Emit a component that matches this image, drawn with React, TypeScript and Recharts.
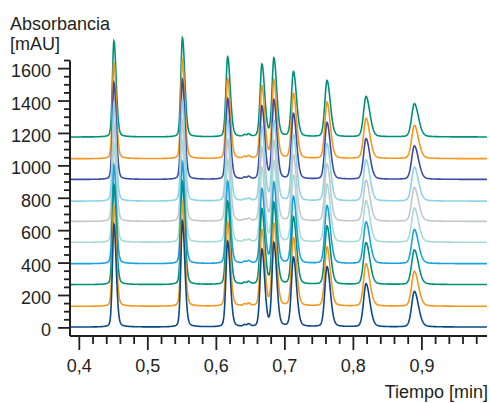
import React from 'react';
import { LineChart, Line, XAxis, YAxis, ReferenceLine } from 'recharts';

// retention time (min), peak height on the top trace (mAU), full width at half max (min)
const peakTimes = [0.4505, 0.5505, 0.6165, 0.641, 0.647, 0.6665, 0.684, 0.7125, 0.7615, 0.8185, 0.889];
const peakHeights = [593, 612, 494, 10, 14, 446, 481, 400, 347, 249, 205];
const peakWidths = [0.0052, 0.0055, 0.006, 0.004, 0.004, 0.0063, 0.0064, 0.007, 0.0076, 0.0086, 0.0094];

// traces listed bottom to top
const traceOffsets = [5, 133, 267, 396, 528, 657, 782, 916, 1044, 1178];
const traceScales = [1.07, 1.05, 1.04, 1.03, 1.03, 1.02, 1.02, 1.01, 1.0, 1.0];
const traceColors = [
    '#0b4a86',
    '#f7961d',
    '#00917a',
    '#1ba0e0',
    '#a6dbd5',
    '#c4c6cc',
    '#8dd3e5',
    '#3b4ba3',
    '#f7961d',
    '#00917a',
];

const yMajorTicks = [0, 200, 400, 600, 800, 1000, 1200, 1400, 1600];
const yMinorTicks = [50, 100, 150, 250, 300, 350, 450, 500, 550, 650, 700, 750, 850, 900, 950,
    1050, 1100, 1150, 1250, 1300, 1350, 1450, 1500, 1550, 1650];
const xMajorTicks = [0.4, 0.5, 0.6, 0.7, 0.8, 0.9];
const xMinorTicks = [0.42, 0.44, 0.46, 0.48, 0.52, 0.54, 0.56, 0.58, 0.62, 0.64, 0.66, 0.68,
    0.72, 0.74, 0.76, 0.78, 0.82, 0.84, 0.86, 0.88, 0.92, 0.94, 0.96, 0.98];

const X_MIN = 0.3864;
const X_MAX = 0.995;
const STEP = 0.0005;
const INK = '#231f20';
const FONT = '"Liberation Sans", Arial, sans-serif';

function peakShape(t: number, t0: number, h: number, w: number) {
    const hw = (w / 2) * (t > t0 ? 1.5 : 1);
    const d = (t - t0) / hw;
    const g = Math.exp(-Math.LN2 * d * d);
    const l = 1 / (1 + d * d);
    return h * (0.8 * g + 0.2 * l);
}

const rows: Array<Record<string, number>> = [];
for (let i = 0; X_MIN + i * STEP <= X_MAX + 1e-9; i++) {
    const t = X_MIN + i * STEP;
    const row: Record<string, number> = { t };
    traceOffsets.forEach((off, k) => {
        let v = off;
        peakTimes.forEach((p, j) => {
            v += peakShape(t, p, peakHeights[j] * traceScales[k], peakWidths[j]);
        });
        row['s' + k] = v;
    });
    rows.push(row);
}

const isMajorX = (v: number) => xMajorTicks.some((m) => Math.abs(m - v) < 1e-6);
const isMajorY = (v: number) => yMajorTicks.includes(v);

function XTick(props: any) {
    const { x, y, payload } = props;
    const major = isMajorX(payload.value);
    return (
        <g>
            <line x1={x} x2={x} y1={y} y2={y + (major ? 14 : 8)} stroke={INK} strokeWidth={1.8} />
            {major && (
                <text x={x} y={372} textAnchor="middle" fill={INK} fontSize={18} fontFamily={FONT}>
                    {payload.value.toFixed(1).replace('.', ',')}
                </text>
            )}
        </g>
    );
}

function YTick(props: any) {
    const { x, y, payload } = props;
    const major = isMajorY(payload.value);
    return (
        <g>
            <line x1={x - (major ? 12 : 6)} x2={x} y1={y} y2={y} stroke={INK} strokeWidth={1.8} />
            {major && (
                <text x={51} y={y + 8.5} textAnchor="end" fill={INK} fontSize={18} fontFamily={FONT}>
                    {payload.value}
                </text>
            )}
        </g>
    );
}

export default function App() {
    const order = traceOffsets.map((_, k) => k).reverse();
    return (
        <div style={{ position: 'absolute', left: 0, top: 0, width: 490, height: 403, fontFamily: FONT, color: INK, background: '#fff' }}>
            <LineChart width={490} height={403} data={rows} margin={{ top: 20, right: 3, bottom: 0, left: 0 }}>
                <XAxis
                    dataKey="t"
                    type="number"
                    domain={[X_MIN, X_MAX]}
                    ticks={[...xMajorTicks, ...xMinorTicks].sort((a, b) => a - b)}
                    interval={0}
                    tick={<XTick />}
                    tickLine={false}
                    tickSize={0}
                    tickMargin={0}
                    height={67}
                    axisLine={{ stroke: INK, strokeWidth: 2 }}
                />
                <YAxis
                    type="number"
                    domain={[-50, 1900]}
                    ticks={[...yMajorTicks, ...yMinorTicks].sort((a, b) => a - b)}
                    interval={0}
                    tick={<YTick />}
                    tickLine={false}
                    tickSize={0}
                    tickMargin={0}
                    width={70}
                    axisLine={false}
                />
                {order.map((k) => (
                    <Line
                        key={k}
                        dataKey={'s' + k}
                        stroke={traceColors[k]}
                        strokeWidth={1.6}
                        dot={false}
                        activeDot={false}
                        type="linear"
                        isAnimationActive={false}
                    />
                ))}
                <ReferenceLine
                    segment={[{ x: X_MIN, y: -50 }, { x: X_MIN, y: 1650 }]}
                    stroke={INK}
                    strokeWidth={2}
                    ifOverflow="visible"
                />
            </LineChart>
            <div style={{ position: 'absolute', left: 10, top: 13.8, fontSize: 18, lineHeight: '20px', whiteSpace: 'pre' }}>
                {'Absorbancia\n[mAU]'}
            </div>
            <div style={{ position: 'absolute', left: 0, width: 488, top: 382, fontSize: 18, lineHeight: '20px', textAlign: 'right' }}>
                Tiempo [min]
            </div>
        </div>
    );
}
